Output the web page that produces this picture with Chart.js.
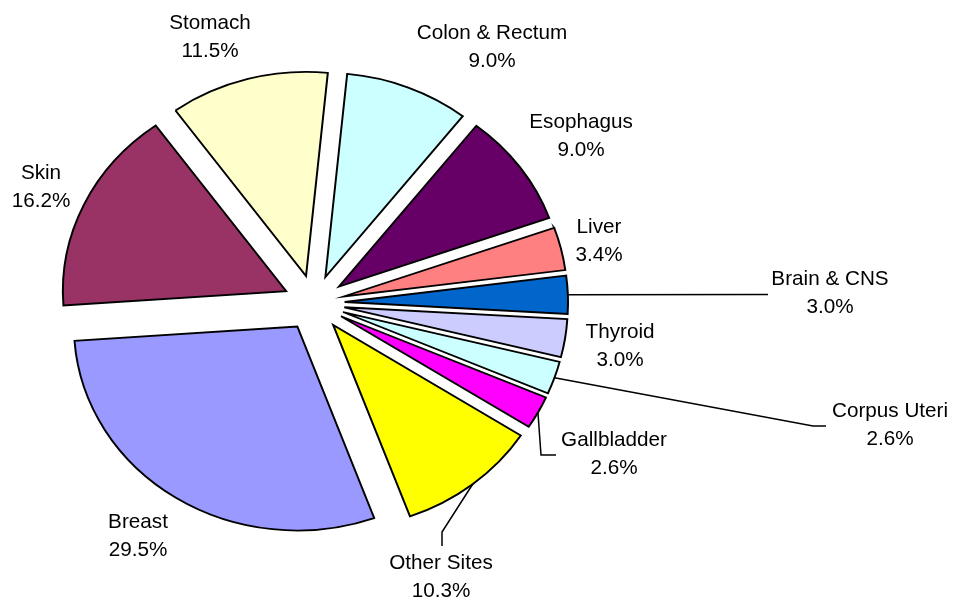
<!DOCTYPE html>
<html lang="en">
  <head>
    <meta charset="UTF-8" />
    <title>Cancer sites</title>
    <style>
      html, body { margin: 0; padding: 0; background: #fff; }
      #box { width: 953px; height: 599px; position: relative; }
    </style>
  </head>
  <body>
    <div id="box">
      <canvas id="myChart"></canvas>
    </div>

    <script src="https://cdn.jsdelivr.net/npm/chart.js"></script>
    <script>
      // data (clockwise, starting just right of 12 o'clock)
      const sites = ["Colon & Rectum", "Esophagus", "Liver", "Brain & CNS", "Thyroid",
        "Corpus Uteri", "Gallbladder", "Other Sites", "Breast", "Skin", "Stomach"];
      const shares = [9.0, 9.0, 3.4, 3.0, 3.0, 2.6, 2.6, 10.3, 29.5, 16.2, 11.5];

      const cores = ["#CCFFFF", "#660066", "#FF8080", "#0066CC", "#CCCCFF",
        "#CCFFFF", "#FF00FF", "#FFFF00", "#9999FF", "#993366", "#FFFFCC"];

      // where each label sits (first line baseline, centred) and its leader line bends
      const labelAt = [[492, 39], [581, 128], [599, 233], [830, 285], [620, 338],
        [890, 417], [614, 446], [441, 569], [138, 528], [41, 179], [210, 29]];
      const leaderVia = [null, null, null, [[768, 294.5]], null,
        [[813, 426], [826, 426]], [[541, 455], [556, 455]], [[442, 532], [442, 546]],
        null, null, null];

      const STRETCH = 1.095; // the pie in the picture is a bit wider than tall
      const GAP = 28;        // explode distance
      const LINE = 28;       // label line height

      // draw every slice pulled out from the centre
      const explode = {
        id: "explode",
        beforeDatasetDraw(chart, args) {
          const ctx = chart.ctx;
          args.meta.data.forEach((arc) => {
            const { x, y, startAngle, endAngle } = arc.getProps(["x", "y", "startAngle", "endAngle"], true);
            const mid = (startAngle + endAngle) / 2;
            ctx.save();
            ctx.translate(x, y);
            ctx.scale(STRETCH, 1);
            ctx.translate(Math.cos(mid) * GAP - x, Math.sin(mid) * GAP - y);
            arc.draw(ctx);
            ctx.restore();
          });
          return false;
        },
      };

      const labels = {
        id: "labels",
        afterDatasetsDraw(chart) {
          const ctx = chart.ctx;
          const meta = chart.getDatasetMeta(0);
          ctx.save();
          ctx.strokeStyle = "#000";
          ctx.lineWidth = 1.5;
          meta.data.forEach((arc, i) => {
            if (!leaderVia[i]) return;
            const { x, y, startAngle, endAngle, outerRadius } =
              arc.getProps(["x", "y", "startAngle", "endAngle", "outerRadius"], true);
            const mid = (startAngle + endAngle) / 2;
            const r = outerRadius + GAP;
            ctx.beginPath();
            ctx.moveTo(x + Math.cos(mid) * r * STRETCH, y + Math.sin(mid) * r);
            leaderVia[i].forEach((p) => ctx.lineTo(p[0], p[1]));
            ctx.stroke();
          });

          ctx.fillStyle = "#000";
          ctx.font = '20.7px "Liberation Sans", Arial, sans-serif';
          ctx.textAlign = "center";
          ctx.textBaseline = "alphabetic";
          sites.forEach((nome, i) => {
            const [lx, ly] = labelAt[i];
            ctx.fillText(nome, lx, ly);
            ctx.fillText(shares[i].toFixed(1) + "%", lx, ly + LINE);
          });
          ctx.restore();
        },
      };

      const data = {
        labels: sites,
        datasets: [
          {
            data: shares,
            backgroundColor: cores,
            borderColor: "#000",
            borderWidth: 1.8,
            borderJoinStyle: "miter",
          },
        ],
      };

      const config = {
        type: "pie",
        data,
        options: {
          responsive: true,
          maintainAspectRatio: false,
          animation: false,
          rotation: 5.6,
          radius: 204,
          layout: { padding: { left: 0, right: 325, top: 7, bottom: 0 } },
          events: [],
          plugins: {
            legend: { display: false },
            tooltip: { enabled: false },
          },
        },
        plugins: [explode, labels],
      };

      var myChart = new Chart(document.getElementById("myChart"), config);
    </script>
  </body>
</html>
